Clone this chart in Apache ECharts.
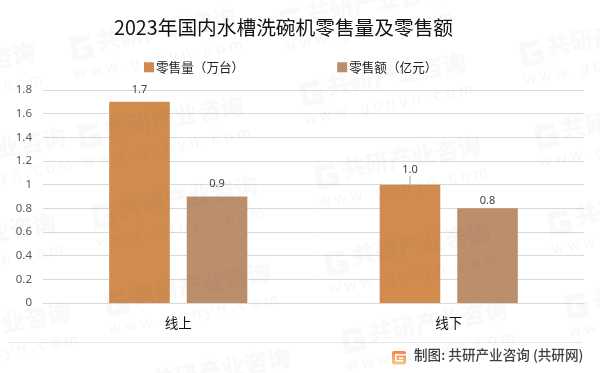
<!DOCTYPE html>
<html><head><meta charset="utf-8">
<style>html,body{margin:0;padding:0;background:#fff}#c{width:600px;height:373px}</style>
<script src="https://cdn.jsdelivr.net/npm/echarts@6/dist/echarts.min.js"></script>
</head><body><div id="c"></div>
<script>
const titleText = '2023年国内水槽洗碗机零售量及零售额';
const categories = ['线上', '线下'];
const seriesNames = ['零售量\uFF08万台\uFF09', '零售额\uFF08亿元\uFF09'];
const volume = [1.7, 1.0];
const revenue = [0.9, 0.8];
const footerText = '制图: 共研产业咨询 (共研网)';
const wmMain = '共研产业咨询';
const wmSub = 'w w w . g o n y n . c o m';
const wmAnchors = [[70,50],[78,138],[-130,85],[-100,170],[300,95],[520,55],[315,178],[535,138],[92,218],[-110,255],[105,305],[-95,345],[125,390],[325,265],[342,342],[548,225],[565,308],[280,22]];

const FONT = '"Noto Sans CJK SC","Noto Sans",sans-serif';
const chart = echarts.init(document.getElementById('c'), null, {renderer:'canvas'});
const wmColor = 'rgba(100,100,100,0.04)';
const wmSubColor = 'rgba(100,100,100,0.06)';
const wm = wmAnchors.map(([x,y]) => ({
  type:'group', x, y, rotation: 10*Math.PI/180, silent:true, z:100,
  children:[
    {type:'polyline', z:100, shape:{points:[[21,-9],[4,-9],[4,9],[20,9],[20,1],[12,1]]}, style:{fill:null,stroke:wmColor,lineWidth:6}},
    {type:'text', x:28, y:-16, z:100, style:{text:wmMain, fill:wmColor, font:'900 23.5px '+FONT}},
    {type:'text', x:0, y:17, z:100, style:{text:wmSub, fill:wmSubColor, font:'16px "Liberation Sans"'}}
  ]
}));
const labelBase = {show:true,position:'top',distance:2,fontFamily:'"Noto Sans",sans-serif',fontSize:11,color:'#404040',formatter:p=>p.value.toFixed(1)};
chart.setOption({
  animation:false,
  backgroundColor:'#fff',
  title:{text:titleText,left:114,top:18,padding:0,textStyle:{fontFamily:FONT,fontSize:19.7,fontWeight:'normal',color:'#111'}},
  legend:{left:144,top:61,padding:0,itemWidth:10,itemHeight:10,itemGap:93,icon:'rect',
    textStyle:{fontFamily:FONT,fontSize:12.6,color:'#222',padding:[0,0,0,-3]},
    data:seriesNames},
  grid:{left:43,right:16,top:90,bottom:70},
  xAxis:{type:'category',data:categories,
    axisLine:{lineStyle:{color:'#d9d9d9'}},axisTick:{show:false},
    axisLabel:{fontFamily:FONT,fontSize:13.5,color:'#111',margin:13}},
  yAxis:{type:'value',min:0,max:1.8,interval:0.2,
    axisLine:{show:false},axisTick:{show:false},
    splitLine:{lineStyle:{color:'#d9d9d9',width:1}},
    axisLabel:{fontFamily:'"Noto Sans",sans-serif',fontSize:11.5,color:'#595959',margin:11}},
  series:[
    {name:seriesNames[0],type:'bar',
     data:volume.map((v,i)=>({value:v,labelLine:{show:i===1,lineStyle:{color:'#a6a6a6',width:1}}})),
     barWidth:'22.4%',barGap:'28%',
     itemStyle:{color:'#d18b4e'},
     label:labelBase,
     labelLayout:p=>p.dataIndex===1?{dy:-7}:{dy:-4}},
    {name:seriesNames[1],type:'bar',data:revenue,barWidth:'22.4%',
     itemStyle:{color:'#bb8e6c'},
     label:labelBase,
     labelLayout:p=>p.dataIndex===0?{dy:-5}:{dy:0}}
  ],
  graphic:[
    {type:'line',silent:true,shape:{x1:8,y1:342.5,x2:582,y2:342.5},style:{stroke:'#e6e6e6',lineWidth:1}},
    {type:'rect',silent:true,shape:{x:392,y:351,width:14,height:13.5,r:2},style:{fill:new echarts.graphic.LinearGradient(0,0,0,1,[{offset:0,color:'#f2854a'},{offset:1,color:'#fbc98a'}])}},
    {type:'rect',silent:true,shape:{x:396,y:354,width:10,height:1.5},style:{fill:'#fff'}},
    {type:'rect',silent:true,shape:{x:399,y:357.5,width:4,height:1.5},style:{fill:'#fff'}},
    {type:'rect',silent:true,shape:{x:395,y:354,width:1.5,height:7},style:{fill:'#fff'}},
    {type:'rect',silent:true,shape:{x:395,y:360,width:8,height:1.5},style:{fill:'#fff'}},
    {type:'text',silent:true,x:414,y:348.5,style:{text:footerText,fill:'#404040',font:'500 13.6px '+FONT}},
    ...wm
  ]
});
</script></body></html>
